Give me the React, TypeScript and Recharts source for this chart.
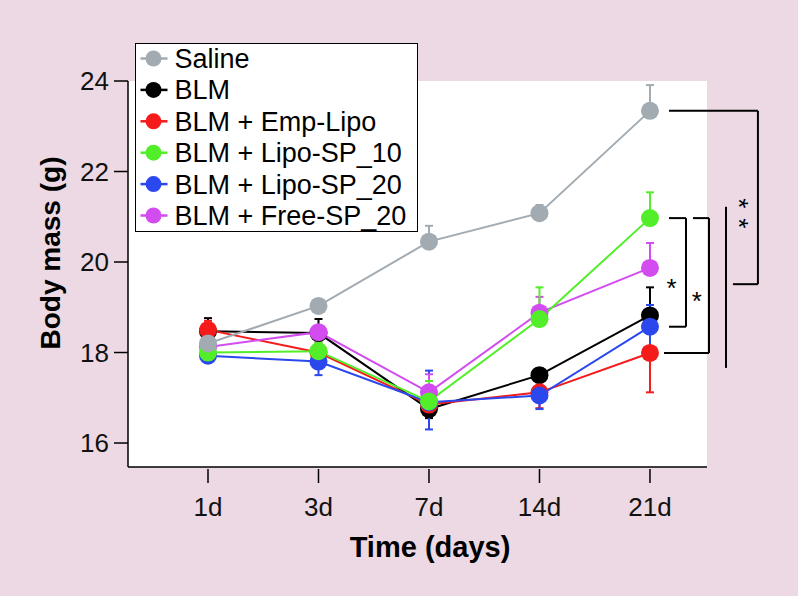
import {
  LineChart,
  Line,
  XAxis,
  YAxis,
  ErrorBar,
  Legend,
  ReferenceArea,
  ReferenceLine,
  ReferenceDot,
} from "recharts";

if (typeof document !== "undefined") document.body.style.margin = "0";

const FONT = "'Liberation Sans', Arial, Helvetica, sans-serif";
const BG = "#ECD9E3";

// time points
const days = ["1d", "3d", "7d", "14d", "21d"];
const yTicks = [16, 18, 20, 22, 24];

// body mass (g) per group
const saline = [18.2, 19.03, 20.45, 21.08, 23.34];
const blm = [18.47, 18.43, 16.75, 17.5, 18.82];
const empLipo = [18.5, 18.0, 16.85, 17.12, 17.99];
const lipo10 = [18.0, 18.03, 16.92, 18.74, 20.97];
const lipo20 = [17.93, 17.8, 16.9, 17.05, 18.57];
const free20 = [18.12, 18.45, 17.12, 18.88, 19.87];

// error bars as [below, above]
const salineErr = [[0, 0.15], [0, 0.15], [0, 0.35], [0, 0.18], [0, 0.57]];
const blmErr = [[0, 0.29], [0, 0.31], [0.2, 0], [0, 0.15], [0, 0.62]];
const empLipoErr = [[0, 0.2], [0, 0.2], [0.2, 0], [0.35, 0], [0.87, 0]];
const lipo10Err = [[0, 0.1], [0, 0.2], [0, 0.45], [0, 0.7], [0, 0.57]];
const lipo20Err = [[0.1, 0], [0.3, 0], [0.6, 0.7], [0.3, 0.3], [0.45, 0.48]];
const free20Err = [[0, 0.1], [0, 0.1], [0, 0.4], [0, 0.35], [0, 0.55]];

// draw order (last on top)
const series = [
  { key: "blm", name: "BLM", color: "#000000", values: blm, err: blmErr },
  { key: "emp", name: "BLM + Emp-Lipo", color: "#F51B1B", values: empLipo, err: empLipoErr },
  { key: "lipo20", name: "BLM + Lipo-SP_20", color: "#2B48EE", values: lipo20, err: lipo20Err },
  { key: "free20", name: "BLM + Free-SP_20", color: "#D24CF0", values: free20, err: free20Err },
  { key: "lipo10", name: "BLM + Lipo-SP_10", color: "#52EE2A", values: lipo10, err: lipo10Err },
  { key: "saline", name: "Saline", color: "#A2ABB2", values: saline, err: salineErr },
];
const legendOrder = ["saline", "blm", "emp", "lipo10", "lipo20", "free20"];

const data = days.map((d, i) => {
  const row: Record<string, any> = { x: i, day: d };
  series.forEach((s) => {
    row[s.key] = s.values[i];
    row[s.key + "Err"] = s.err[i];
  });
  return row;
});

// axis extents (in data units)
const X_MIN = -0.724;
const X_MAX = 5.213;
const X_WHITE = 4.516;
const Y_MIN = 15.47;
const Y_MAX = 24;

const XTick = ({ x, y, payload }: any) => (
  <g>
    <line x1={x} x2={x} y1={y + 2} y2={y + 16} stroke="#000" strokeWidth={1.5} />
    <text x={x} y={y + 49} textAnchor="middle" fontSize={26} fill="#111" fontFamily={FONT}>
      {days[payload.value]}
    </text>
  </g>
);

const LegendBox = () => (
  <div
    style={{
      width: 283,
      height: 189,
      border: "1.5px solid #000",
      background: "#fff",
      boxSizing: "border-box",
    }}
  >
    <svg width={280} height={186} style={{ display: "block", overflow: "visible" }}>
      {legendOrder.map((k, i) => {
        const s = series.find((e) => e.key === k)!;
        const cy = 14.5 + i * 31.4;
        return (
          <g key={k}>
            <line x1={4.5} x2={31.5} y1={cy} y2={cy} stroke={s.color} strokeWidth={2.5} />
            <circle cx={17.5} cy={cy} r={8} fill={s.color} />
            <text x={38.5} y={cy + 9.5} fontSize={27} fill="#000" fontFamily={FONT}>
              {s.name}
            </text>
          </g>
        );
      })}
    </svg>
  </div>
);

const Star = ({ cx, cy }: any) => (
  <text x={cx} y={cy + 15} textAnchor="middle" fontSize={26} fill="#000" fontFamily={FONT}>
    *
  </text>
);

// the double star: one text run, turned to read downwards
const DoubleStar = ({ cx, cy }: any) => {
  const bx = cx - 15;
  const by = cy - 5;
  return (
    <text
      x={bx}
      y={by}
      fontSize={26}
      letterSpacing={10}
      fill="#000"
      fontFamily={FONT}
      transform={`rotate(90, ${bx}, ${by})`}
    >
      **
    </text>
  );
};

const bk = { stroke: "#000", strokeWidth: 2, ifOverflow: "visible" as const };

export default function App() {
  return (
    <div style={{ width: 798, height: 596, background: BG, position: "relative" }}>
      <LineChart width={798} height={596} data={data} margin={{ top: 81, right: 14, bottom: 19, left: 0 }}>
        <ReferenceArea x1={X_MIN} x2={X_WHITE} y1={Y_MIN} y2={Y_MAX} fill="#fff" fillOpacity={1} stroke="none" ifOverflow="visible" />
        <XAxis
          dataKey="x"
          type="number"
          domain={[X_MIN, X_MAX]}
          ticks={[0, 1, 2, 3, 4]}
          axisLine={false}
          tickLine={false}
          tickSize={0}
          tickMargin={0}
          height={110}
          tick={<XTick />}
          label={{
            value: "Time (days)",
            position: "insideBottom",
            offset: 20,
            dx: -26,
            fontSize: 29,
            fontWeight: "bold",
            fill: "#000",
            fontFamily: FONT,
          }}
        />
        <YAxis
          domain={[Y_MIN, Y_MAX]}
          ticks={yTicks}
          width={128}
          tickSize={14}
          tickMargin={5}
          axisLine={{ stroke: "#000", strokeWidth: 1.5 }}
          tickLine={{ stroke: "#000", strokeWidth: 1.5 }}
          tick={{ fill: "#111", fontSize: 26, fontFamily: FONT }}
          label={{
            content: ({ viewBox }: any) => {
              const cx = viewBox.x + 60;
              const cy = viewBox.y + viewBox.height / 2 - 21;
              return (
                <text
                  x={cx}
                  y={cy}
                  textAnchor="middle"
                  fontSize={28}
                  fontWeight="bold"
                  fill="#000"
                  fontFamily={FONT}
                  transform={`rotate(-90, ${cx}, ${cy})`}
                >
                  Body mass (g)
                </text>
              );
            },
          }}
        />
        <ReferenceLine segment={[{ x: X_MIN, y: Y_MIN }, { x: X_WHITE, y: Y_MIN }]} stroke="#000" strokeWidth={1.5} ifOverflow="visible" />

        {series.map((s) => (
          <Line
            key={s.key}
            dataKey={s.key}
            name={s.name}
            type="linear"
            stroke={s.color}
            strokeWidth={2}
            dot={{ r: 9, fill: s.color, stroke: s.color, strokeWidth: 0 }}
            activeDot={false}
            isAnimationActive={false}
          >
            <ErrorBar dataKey={s.key + "Err"} direction="y" width={4} stroke={s.color} strokeWidth={2} />
          </Line>
        ))}

        {/* significance brackets at 21d */}
        <ReferenceLine segment={[{ x: 4.172, y: saline[4] }, { x: 4.977, y: saline[4] }]} {...bk} />
        <ReferenceLine segment={[{ x: 4.977, y: saline[4] }, { x: 4.977, y: 19.51 }]} {...bk} />
        <ReferenceLine segment={[{ x: 4.751, y: 19.51 }, { x: 4.977, y: 19.51 }]} {...bk} />
        <ReferenceLine segment={[{ x: 4.688, y: 21.22 }, { x: 4.688, y: 17.66 }]} {...bk} />

        <ReferenceLine segment={[{ x: 4.172, y: lipo10[4] }, { x: 4.326, y: lipo10[4] }]} {...bk} />
        <ReferenceLine segment={[{ x: 4.326, y: lipo10[4] }, { x: 4.326, y: lipo20[4] }]} {...bk} />
        <ReferenceLine segment={[{ x: 4.172, y: lipo20[4] }, { x: 4.326, y: lipo20[4] }]} {...bk} />

        <ReferenceLine segment={[{ x: 4.389, y: lipo10[4] }, { x: 4.534, y: lipo10[4] }]} {...bk} />
        <ReferenceLine segment={[{ x: 4.534, y: lipo10[4] }, { x: 4.534, y: empLipo[4] }]} {...bk} />
        <ReferenceLine segment={[{ x: 4.127, y: empLipo[4] }, { x: 4.534, y: empLipo[4] }]} {...bk} />

        <ReferenceDot x={4.86} y={21.3} r={0} shape={<DoubleStar />} ifOverflow="visible" />
        <ReferenceDot x={4.195} y={19.56} r={0} shape={<Star />} ifOverflow="visible" />
        <ReferenceDot x={4.425} y={19.27} r={0} shape={<Star />} ifOverflow="visible" />

        <Legend
          layout="vertical"
          align="center"
          verticalAlign="middle"
          wrapperStyle={{ top: 43, left: 135, width: 283, height: 189 }}
          content={() => <LegendBox />}
        />
      </LineChart>
    </div>
  );
}
